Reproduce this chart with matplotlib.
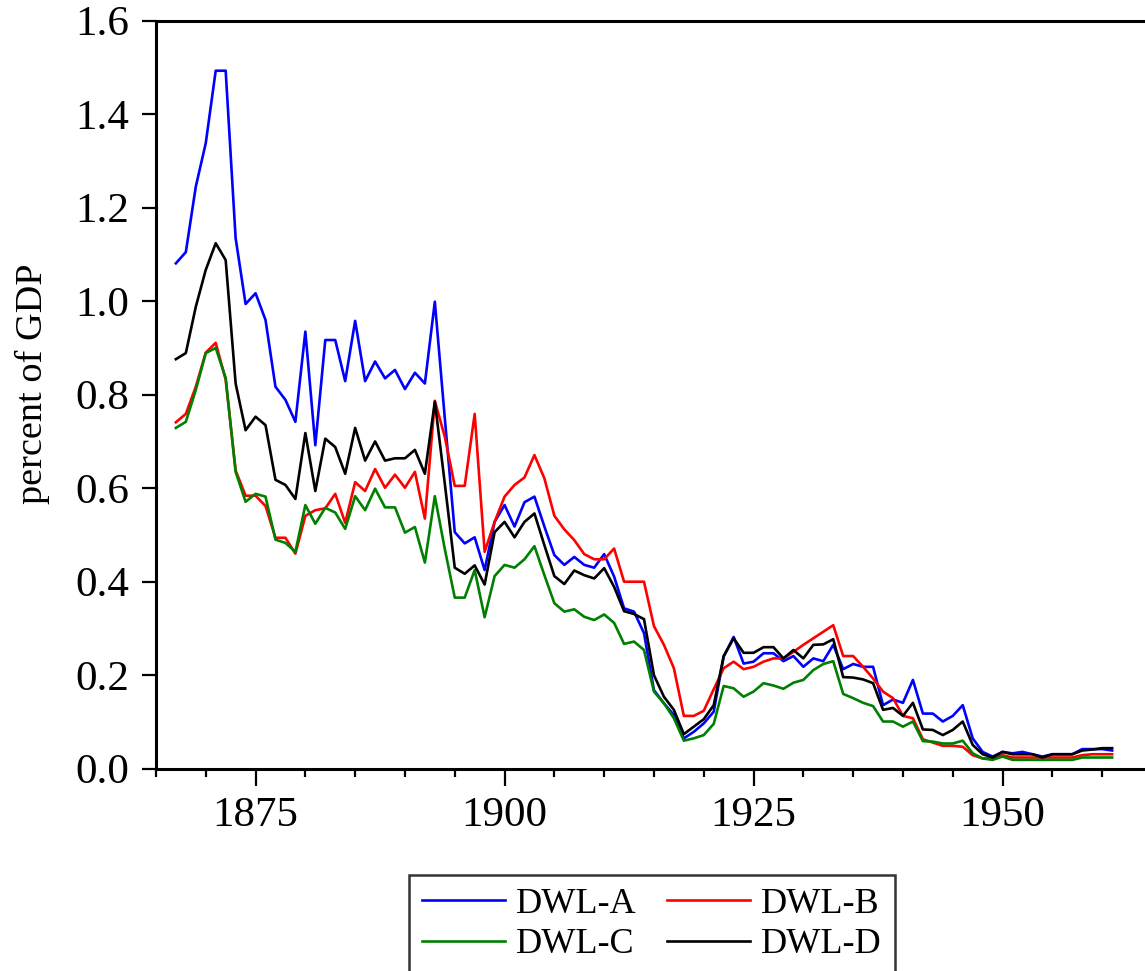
import matplotlib
matplotlib.use("Agg")
import matplotlib.pyplot as plt
from matplotlib.ticker import MultipleLocator, FormatStrFormatter

plt.rcParams.update({
    "font.family": ["Liberation Serif", "DejaVu Serif"],
    "font.size": 26,
})

YEARS = list(range(1867, 1962))

DWL_A = [1.081, 1.105, 1.245, 1.338,
         1.493, 1.493, 1.135, 0.994, 1.017, 0.960, 0.817, 0.789, 0.742, 0.935,
         0.692, 0.917, 0.917, 0.829, 0.958, 0.829, 0.871, 0.835, 0.853, 0.812,
         0.847, 0.824, 0.999, 0.750, 0.506, 0.482, 0.495, 0.425, 0.528, 0.564,
         0.518, 0.570, 0.582, 0.518, 0.457, 0.436, 0.453, 0.436, 0.430, 0.459,
         0.411, 0.343, 0.336, 0.290, 0.168, 0.140, 0.115, 0.065, 0.079, 0.097,
         0.122, 0.240, 0.282, 0.225, 0.229, 0.247, 0.247, 0.230, 0.241, 0.218,
         0.236, 0.230, 0.265, 0.213, 0.224, 0.218, 0.218, 0.136, 0.148, 0.141,
         0.190, 0.118, 0.118, 0.101, 0.113, 0.136, 0.065, 0.036, 0.026, 0.036,
         0.033, 0.036, 0.031, 0.026, 0.031, 0.031, 0.031, 0.042, 0.042, 0.042, 0.039]

DWL_B = [0.741, 0.759, 0.817, 0.890,
         0.911, 0.832, 0.638, 0.584, 0.584, 0.562, 0.494, 0.494, 0.460, 0.541,
         0.553, 0.557, 0.588, 0.526, 0.613, 0.594, 0.641, 0.601, 0.629, 0.601,
         0.635, 0.535, 0.787, 0.710, 0.605, 0.605, 0.759, 0.464, 0.528, 0.582,
         0.607, 0.623, 0.671, 0.621, 0.541, 0.512, 0.489, 0.459, 0.448, 0.448,
         0.471, 0.400, 0.400, 0.400, 0.305, 0.265, 0.215, 0.113, 0.113, 0.124,
         0.170, 0.215, 0.229, 0.213, 0.218, 0.229, 0.236, 0.236, 0.250, 0.265,
         0.279, 0.293, 0.307, 0.241, 0.241, 0.218, 0.193, 0.165, 0.151, 0.113,
         0.108, 0.063, 0.056, 0.049, 0.049, 0.047, 0.029, 0.022, 0.022, 0.029,
         0.024, 0.024, 0.024, 0.024, 0.024, 0.024, 0.024, 0.029, 0.031, 0.031, 0.031]

DWL_C = [0.729, 0.742, 0.810, 0.889,
         0.900, 0.836, 0.635, 0.571, 0.588, 0.582, 0.490, 0.483, 0.464, 0.564,
         0.524, 0.558, 0.548, 0.513, 0.583, 0.553, 0.599, 0.559, 0.559, 0.505,
         0.517, 0.441, 0.583, 0.470, 0.366, 0.366, 0.425, 0.324, 0.412, 0.436,
         0.430, 0.448, 0.476, 0.414, 0.354, 0.336, 0.341, 0.325, 0.318, 0.330,
         0.312, 0.267, 0.272, 0.254, 0.165, 0.140, 0.108, 0.060, 0.065, 0.072,
         0.096, 0.177, 0.172, 0.154, 0.165, 0.183, 0.178, 0.171, 0.184, 0.190,
         0.211, 0.224, 0.230, 0.160, 0.151, 0.141, 0.134, 0.101, 0.101, 0.090,
         0.101, 0.059, 0.058, 0.054, 0.054, 0.060, 0.033, 0.022, 0.019, 0.026,
         0.019, 0.019, 0.019, 0.019, 0.019, 0.019, 0.019, 0.024, 0.024, 0.024, 0.024]

DWL_D = [0.876, 0.889, 0.988, 1.067,
         1.124, 1.088, 0.824, 0.724, 0.753, 0.735, 0.618, 0.607, 0.577, 0.718,
         0.594, 0.706, 0.688, 0.631, 0.729, 0.659, 0.700, 0.659, 0.664, 0.664,
         0.682, 0.631, 0.785, 0.610, 0.430, 0.417, 0.435, 0.394, 0.506, 0.528,
         0.495, 0.528, 0.546, 0.478, 0.412, 0.395, 0.424, 0.414, 0.407, 0.429,
         0.389, 0.337, 0.331, 0.320, 0.200, 0.154, 0.126, 0.074, 0.090, 0.106,
         0.136, 0.241, 0.279, 0.248, 0.248, 0.260, 0.260, 0.236, 0.254, 0.236,
         0.265, 0.266, 0.277, 0.196, 0.195, 0.191, 0.183, 0.126, 0.130, 0.113,
         0.141, 0.084, 0.083, 0.072, 0.083, 0.101, 0.051, 0.031, 0.024, 0.036,
         0.031, 0.031, 0.031, 0.024, 0.031, 0.031, 0.031, 0.039, 0.041, 0.044, 0.044]

SERIES = [("DWL-A", DWL_A, "#0000FF"), ("DWL-B", DWL_B, "#FF0000"),
          ("DWL-C", DWL_C, "#008000"), ("DWL-D", DWL_D, "#000000")]

fig = plt.figure(figsize=(11.45, 9.71), dpi=100)
ax = fig.add_axes([0.1362, 0.2083, 0.8638, 0.7704])

lines = {}
for name, vals, col in SERIES:
    lines[name], = ax.plot(YEARS, vals, color=col, lw=1.9, label=name)

ax.set_xlim(1865, 1964.3)
ax.set_ylim(0, 1.6)
ax.xaxis.set_major_locator(MultipleLocator(25))
ax.xaxis.set_minor_locator(MultipleLocator(5))
ax.yaxis.set_major_locator(MultipleLocator(0.2))
ax.yaxis.set_major_formatter(FormatStrFormatter("%.1f"))
ax.tick_params(axis="x", which="major", direction="out", length=12, width=1.6,
               pad=8, labelsize=31)
ax.tick_params(axis="x", which="minor", direction="out", length=6, width=1.6)
ax.tick_params(axis="y", which="major", direction="out", length=10, width=1.6,
               pad=9, labelsize=31)
ax.spines["right"].set_visible(False)
for s in ("left", "top", "bottom"):
    ax.spines[s].set_linewidth(2.2)

ax.set_ylabel("percent of GDP", fontsize=27.5)
ax.yaxis.set_label_coords(-0.107, 0.514)

# legend filled row by row: A B / C D
order = ["DWL-A", "DWL-C", "DWL-B", "DWL-D"]
leg = fig.legend([lines[k] for k in order], order, loc="upper center",
                 bbox_to_anchor=(0.5694, 0.0989), ncol=2,
                 borderaxespad=0, frameon=True, fancybox=False, edgecolor="black",
                 handlelength=2.3, handletextpad=0.3, columnspacing=0.85,
                 borderpad=0.35, labelspacing=0.2)
leg.get_frame().set_linewidth(1.8)

fig.savefig("out.png", dpi=100)
